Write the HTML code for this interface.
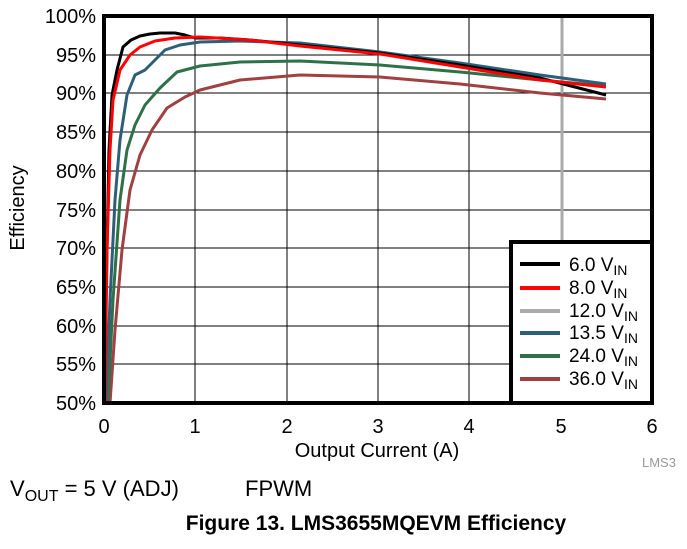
<!DOCTYPE html><html><head><style>body{margin:0;background:#fff;width:687px;height:544px;overflow:hidden;font-family:"Liberation Sans",Arial,sans-serif}</style></head><body>
<svg width="687" height="544" xmlns="http://www.w3.org/2000/svg" font-family="Liberation Sans, Arial, sans-serif">
<g stroke="#000" stroke-width="1">
<line x1="104" y1="55" x2="652" y2="55"/><line x1="104" y1="93" x2="652" y2="93"/><line x1="104" y1="132" x2="652" y2="132"/><line x1="104" y1="171" x2="652" y2="171"/><line x1="104" y1="210" x2="652" y2="210"/><line x1="104" y1="248" x2="652" y2="248"/><line x1="104" y1="287" x2="652" y2="287"/><line x1="104" y1="326" x2="652" y2="326"/><line x1="104" y1="364" x2="652" y2="364"/>
<line x1="195" y1="16" x2="195" y2="403"/><line x1="287" y1="16" x2="287" y2="403"/><line x1="378" y1="16" x2="378" y2="403"/><line x1="469" y1="16" x2="469" y2="403"/><line x1="561" y1="16" x2="561" y2="403"/>
</g>
<line x1="562" y1="16" x2="562" y2="403" stroke="#aaa" stroke-width="3"/>
<g fill="none" stroke-width="3" stroke-linejoin="round">
<polyline stroke="#a04040" points="110,403 115,330 122,250 130,190 140,155 152,130 167,108 185,97 200,90 240,80 300,75 380,77 460,84 540,93 606,99"/>
<polyline stroke="#2e7048" points="108,403 113,300 120,200 127,150 135,125 145,105 160,88 177,72 200,66 240,62 300,61 380,65 460,72 540,80 606,86"/>
<polyline stroke="#2e5f7a" points="106,403 110,300 115,200 120,140 127,95 135,75 145,70 155,60 165,50 180,45 200,42 240,41 300,43 380,52 460,63 540,75 606,84"/>
<polyline stroke="#000" points="104,403 106,300 109,150 112,95 117,70 123,47 131,40 140,36 150,34 160,33 175,33 185,35 195,38 220,38 250,40 300,45 380,53 460,65 540,78 606,95"/>
<polyline stroke="#f00" points="105,403 107,250 110,150 113,100 120,70 130,55 140,47 155,41 175,38 200,37 250,40 300,46 380,54 460,67 540,80 606,87"/>
</g>
<rect x="104" y="16" width="548" height="387" fill="none" stroke="#000" stroke-width="4"/>
<rect x="511" y="242" width="141" height="161" fill="#fff" stroke="#000" stroke-width="4"/>
<g stroke-width="4"><line x1="520" y1="264" x2="560" y2="264" stroke="#000"/><line x1="520" y1="288" x2="560" y2="288" stroke="#f00"/><line x1="520" y1="311" x2="560" y2="311" stroke="#aaa"/><line x1="520" y1="333" x2="560" y2="333" stroke="#2e5f7a"/><line x1="520" y1="356" x2="560" y2="356" stroke="#2e7048"/><line x1="520" y1="379" x2="560" y2="379" stroke="#a04040"/></g>
<g font-size="19" fill="#000">
<text x="569" y="271">6.0 V<tspan font-size="14" dy="4">IN</tspan></text>
<text x="569" y="294">8.0 V<tspan font-size="14" dy="4">IN</tspan></text>
<text x="569" y="317">12.0 V<tspan font-size="14" dy="4">IN</tspan></text>
<text x="569" y="339">13.5 V<tspan font-size="14" dy="4">IN</tspan></text>
<text x="569" y="362">24.0 V<tspan font-size="14" dy="4">IN</tspan></text>
<text x="569" y="385">36.0 V<tspan font-size="14" dy="4">IN</tspan></text>
</g>
<g font-size="20" text-anchor="end"><text x="96" y="23">100%</text><text x="96" y="62">95%</text><text x="96" y="100">90%</text><text x="96" y="139">85%</text><text x="96" y="178">80%</text><text x="96" y="217">75%</text><text x="96" y="255">70%</text><text x="96" y="294">65%</text><text x="96" y="333">60%</text><text x="96" y="371">55%</text><text x="96" y="410">50%</text></g>
<g font-size="20" text-anchor="middle"><text x="104" y="433">0</text><text x="195" y="433">1</text><text x="287" y="433">2</text><text x="378" y="433">3</text><text x="469" y="433">4</text><text x="561" y="433">5</text><text x="652" y="433">6</text>
<text x="377" y="457">Output Current (A)</text>
<text transform="translate(24,208) rotate(-90)">Efficiency</text></g>
<text x="642" y="467" font-size="13" fill="#999">LMS3</text>
<text x="10" y="496" font-size="22">V<tspan font-size="16" dy="5">OUT</tspan><tspan dy="-5"> = 5 V (ADJ)</tspan></text>
<text x="245" y="496" font-size="22">FPWM</text>
<text x="376" y="530" font-size="21" font-weight="bold" text-anchor="middle">Figure 13. LMS3655MQEVM Efficiency</text>
</svg></body></html>
